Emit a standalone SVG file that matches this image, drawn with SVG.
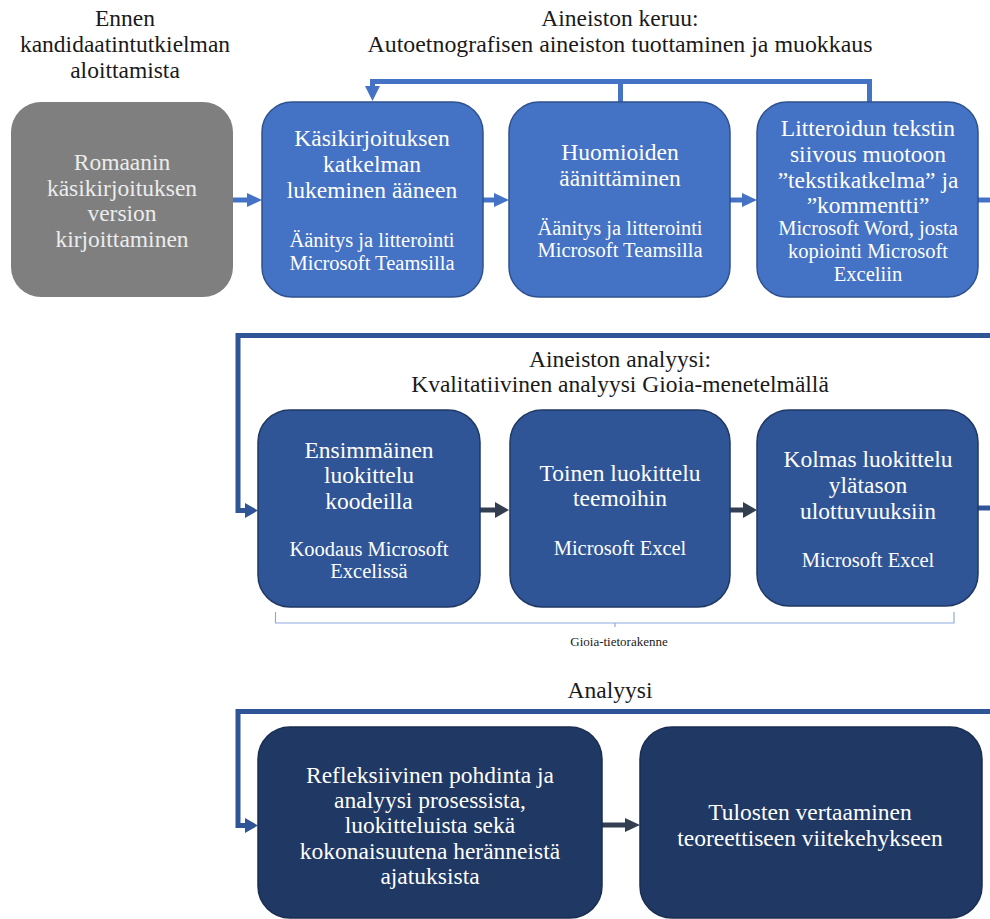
<svg xmlns="http://www.w3.org/2000/svg" width="990" height="919" viewBox="0 0 990 919">
<defs>
<style>
text{font-family:"Liberation Serif","Times New Roman",serif;text-anchor:middle}
.h{font-size:23.5px;fill:#1a1a1a}
.big{font-size:23.5px;fill:#ffffff}
.sm{font-size:20.5px;fill:#ffffff}
.gt{font-size:23.5px;fill:#ececec}
.r1{fill:#4472c4;stroke:#2f528f;stroke-width:1.5}
.r2{fill:#2f5597;stroke:#203864;stroke-width:1.5}
.r3{fill:#203864;stroke:#1a2d52;stroke-width:1.5}
.c1{stroke:#4472c4;stroke-width:5;fill:none}
.c2{stroke:#2f5597;stroke-width:5;fill:none}
.c3{stroke:#333f50;stroke-width:5;fill:none}
</style>
</defs>
<rect width="990" height="919" fill="#ffffff"/>

<g id="headings">
<text class="h" x="125" y="26">Ennen</text>
<text class="h" x="125" y="52">kandidaatintutkielman</text>
<text class="h" x="125" y="78">aloittamista</text>
<text class="h" x="620" y="26">Aineiston keruu:</text>
<text class="h" x="620" y="52" textLength="505" lengthAdjust="spacingAndGlyphs">Autoetnografisen aineiston tuottaminen ja muokkaus</text>
<text class="h" x="620" y="367">Aineiston analyysi:</text>
<text class="h" x="620" y="392">Kvalitatiivinen analyysi Gioia-menetelmällä</text>
<text class="h" x="610" y="698">Analyysi</text>
</g>

<g id="connectors">
<!-- row 1 -->
<line class="c1" x1="233" y1="200" x2="249" y2="200"/>
<polygon points="247,193 262,200 247,207" fill="#4472c4"/>
<line class="c1" x1="483" y1="200" x2="496" y2="200"/>
<polygon points="494,193 509,200 494,207" fill="#4472c4"/>
<line class="c1" x1="730" y1="200" x2="744" y2="200"/>
<polygon points="742,193 757,200 742,207" fill="#4472c4"/>
<line class="c1" x1="978" y1="200" x2="990" y2="200"/>
<!-- feedback -->
<polyline class="c1" points="620.5,102 620.5,81.5 372.5,81.5 372.5,88"/>
<polyline class="c1" points="869.5,102 869.5,81.5 620.5,81.5"/>
<polygon points="365,86 380,86 372.5,101" fill="#4472c4"/>
<!-- to row 2 -->
<polyline class="c2" points="990,335.5 238,335.5 238,510.5 246,510.5"/>
<polygon points="245,503 258,510.5 245,518" fill="#2f5597"/>
<line class="c3" x1="480" y1="510" x2="496" y2="510"/>
<polygon points="495,502 509,510 495,518" fill="#333f50"/>
<line class="c3" x1="730" y1="510" x2="744" y2="510"/>
<polygon points="743,502 757,510 743,518" fill="#333f50"/>
<line class="c2" x1="978" y1="508" x2="990" y2="508"/>
<!-- to row 3 -->
<polyline class="c2" points="990,711.5 238,711.5 238,825.5 246,825.5"/>
<polygon points="245,818 258,825.5 245,833" fill="#2f5597"/>
<line class="c3" x1="602" y1="825" x2="626" y2="825"/>
<polygon points="625,818 640,825 625,832" fill="#333f50"/>
</g>

<g id="n_romaani">
<rect x="11" y="102" width="222" height="195" rx="30" fill="#7f7f7f"/>
<text class="gt" x="122" y="170">Romaanin</text>
<text class="gt" x="122" y="196">käsikirjoituksen</text>
<text class="gt" x="122" y="221">version</text>
<text class="gt" x="122" y="247">kirjoittaminen</text>
</g>

<g id="n_lukeminen">
<rect class="r1" x="262" y="102" width="221" height="195" rx="30"/>
<text class="big" x="372" y="146">Käsikirjoituksen</text>
<text class="big" x="372" y="172">katkelman</text>
<text class="big" x="372" y="198">lukeminen ääneen</text>
<text class="sm" x="372" y="247">Äänitys ja litterointi</text>
<text class="sm" x="372" y="270">Microsoft Teamsilla</text>
</g>

<g id="n_huomioiden">
<rect class="r1" x="509" y="102" width="221" height="195" rx="30"/>
<text class="big" x="620" y="160">Huomioiden</text>
<text class="big" x="620" y="186">äänittäminen</text>
<text class="sm" x="620" y="235">Äänitys ja litterointi</text>
<text class="sm" x="620" y="257">Microsoft Teamsilla</text>
</g>

<g id="n_siivous">
<rect class="r1" x="757" y="102" width="221" height="195" rx="30"/>
<text class="big" x="868" y="136">Litteroidun tekstin</text>
<text class="big" x="868" y="162">siivous muotoon</text>
<text class="big" x="868" y="188">”tekstikatkelma” ja</text>
<text class="big" x="868" y="213">”kommentti”</text>
<text class="sm" x="868" y="235">Microsoft Word, josta</text>
<text class="sm" x="868" y="258">kopiointi Microsoft</text>
<text class="sm" x="868" y="281">Exceliin</text>
</g>

<g id="n_ensimmainen">
<rect class="r2" x="258" y="410" width="222" height="197" rx="32"/>
<text class="big" x="369" y="458">Ensimmäinen</text>
<text class="big" x="369" y="483">luokittelu</text>
<text class="big" x="369" y="509">koodeilla</text>
<text class="sm" x="369" y="556">Koodaus Microsoft</text>
<text class="sm" x="369" y="578">Excelissä</text>
</g>

<g id="n_toinen">
<rect class="r2" x="510" y="410" width="220" height="197" rx="32"/>
<text class="big" x="620" y="481">Toinen luokittelu</text>
<text class="big" x="620" y="506">teemoihin</text>
<text class="sm" x="620" y="555">Microsoft Excel</text>
</g>

<g id="n_kolmas">
<rect class="r2" x="757" y="410" width="221" height="196" rx="32"/>
<text class="big" x="868" y="467">Kolmas luokittelu</text>
<text class="big" x="868" y="493">ylätason</text>
<text class="big" x="868" y="519">ulottuvuuksiin</text>
<text class="sm" x="868" y="567">Microsoft Excel</text>
</g>

<g id="n_gioia">
<path d="M275.5,612 V623 H615 V627 M615,623 H954 V612" fill="none" stroke="#8faadc" stroke-width="1.2"/>
<text x="619" y="646" style="font-size:13px;fill:#1a1a1a">Gioia-tietorakenne</text>
</g>

<g id="n_refleksiivinen">
<rect class="r3" x="258" y="727" width="344" height="191" rx="32"/>
<text class="big" x="430" y="783">Refleksiivinen pohdinta ja</text>
<text class="big" x="430" y="808">analyysi prosessista,</text>
<text class="big" x="430" y="833">luokitteluista sekä</text>
<text class="big" x="430" y="859">kokonaisuutena heränneistä</text>
<text class="big" x="430" y="884">ajatuksista</text>
</g>

<g id="n_tulosten">
<rect class="r3" x="640" y="727" width="342" height="191" rx="32"/>
<text class="big" x="810" y="820">Tulosten vertaaminen</text>
<text class="big" x="810" y="846">teoreettiseen viitekehykseen</text>
</g>
</svg>
